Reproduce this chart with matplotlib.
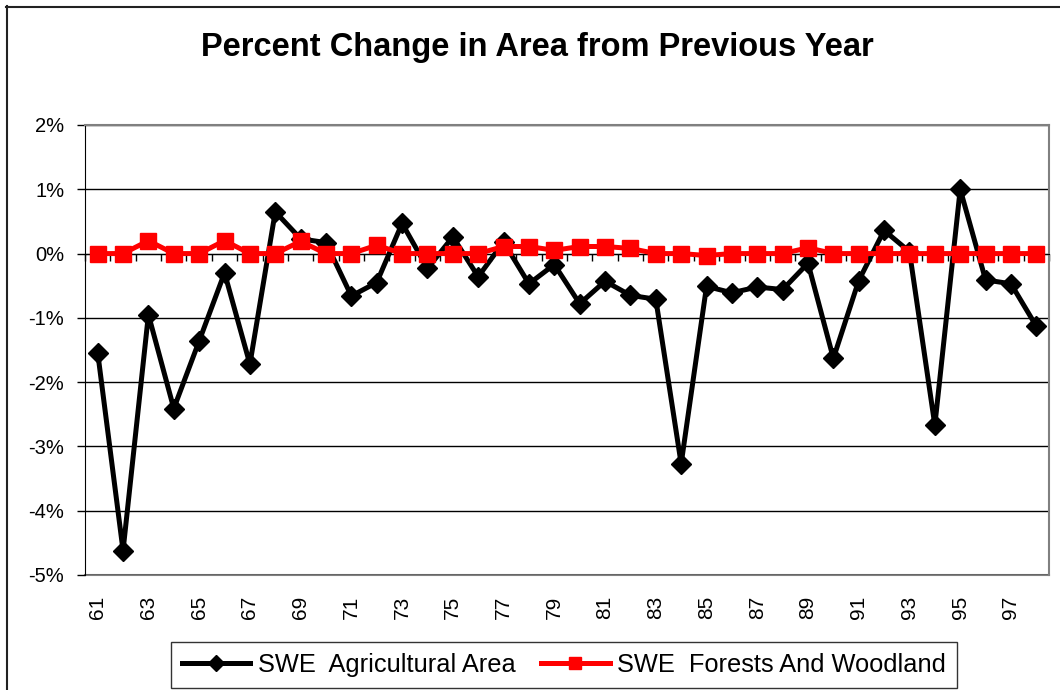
import matplotlib
matplotlib.use("Agg")
import matplotlib.pyplot as plt
from matplotlib.lines import Line2D
from matplotlib.ticker import FuncFormatter
import numpy as np

plt.rcParams['font.family'] = ['Liberation Sans', 'DejaVu Sans']
plt.rcParams['axes.unicode_minus'] = False

# years 1961-1998, percent change from previous year
years = list(range(61, 99))
agricultural = [-1.54, -4.62, -0.95, -2.41, -1.36, -0.30, -1.72, 0.65, 0.23, 0.17,
                -0.66, -0.45, 0.47, -0.23, 0.26, -0.36, 0.18, -0.47, -0.17, -0.78,
                -0.43, -0.65, -0.71, -3.27, -0.51, -0.61, -0.52, -0.56, -0.15, -1.63,
                -0.42, 0.36, 0.03, -2.67, 1.00, -0.41, -0.47, -1.13]
forests = [0.0, 0.0, 0.20, 0.0, 0.0, 0.20, 0.0, 0.0, 0.19, 0.0,
           0.0, 0.13, 0.0, 0.0, 0.0, 0.0, 0.11, 0.11, 0.05, 0.11,
           0.11, 0.08, 0.0, 0.0, -0.03, 0.0, 0.0, 0.0, 0.09, 0.0,
           0.0, 0.0, 0.0, 0.0, 0.0, 0.0, 0.0, 0.0]
y_ticks = [-5, -4, -3, -2, -1, 0, 1, 2]

x = np.arange(len(years))

fig = plt.figure(figsize=(10.6, 6.9), dpi=100)
ax = fig.add_axes([85 / 1060, 115 / 690, 964 / 1060, 450 / 690])

# outer chart frame (left and top edges)
fig.add_artist(Line2D([6.5 / 1060, 6.5 / 1060], [0, 1 - 6 / 690], color='#222222', lw=1.5))
fig.add_artist(Line2D([6 / 1060, 1], [1 - 6.5 / 690, 1 - 6.5 / 690], color='#222222', lw=1.5))

ax.plot(x, agricultural, color='black', lw=3.6, marker='D', markersize=10.5,
        label='SWE  Agricultural Area', zorder=3)
ax.plot(x, forests, color='#ff0000', lw=3.6, marker='s', markersize=11,
        label='SWE  Forests And Woodland', zorder=4)

ax.set_xlim(-0.5, len(years) - 0.5)
ax.set_ylim(-5, 2)
ax.set_yticks(y_ticks)
ax.yaxis.set_major_formatter(FuncFormatter(lambda v, p: f'{v:.0f}%'))
ax.grid(axis='y', color='black', lw=1)
ax.set_axisbelow(True)
ax.tick_params(axis='y', direction='out', length=6, width=1, labelsize=14.5, pad=9)

# category axis crossing at zero, ticks between categories
ax.spines['bottom'].set_position(('data', 0))
ax.spines['bottom'].set_color('black')
ax.set_xticks(np.arange(-0.5, len(years), 1))
ax.tick_params(axis='x', direction='out', length=5, width=1, labelbottom=False)

sec = ax.secondary_xaxis('bottom')
sec.set_xticks(x[::2], labels=[str(y) for y in years[::2]], rotation=90)
sec.tick_params(length=0, labelsize=15, pad=15)
sec.spines['bottom'].set_color('#808080')
sec.spines['bottom'].set_linewidth(1.5)

ax.spines['left'].set_color('black')
ax.spines['top'].set_color('#808080')
ax.spines['right'].set_color('#808080')
ax.spines['top'].set_linewidth(1.5)
ax.spines['right'].set_linewidth(1.5)

fig.text(0.507, 0.931, 'Percent Change in Area from Previous Year',
         ha='center', va='center', fontsize=23.5, fontweight='bold')

leg = fig.legend(loc='center', bbox_to_anchor=(0.532, 0.036), ncol=2,
                 fontsize=18.3, frameon=True, fancybox=False, edgecolor='black',
                 handlelength=2.7, handletextpad=0.3, columnspacing=1.0,
                 borderpad=0.42, markerscale=0.75)
leg.get_frame().set_linewidth(1)

fig.savefig('out.png', dpi=100)
